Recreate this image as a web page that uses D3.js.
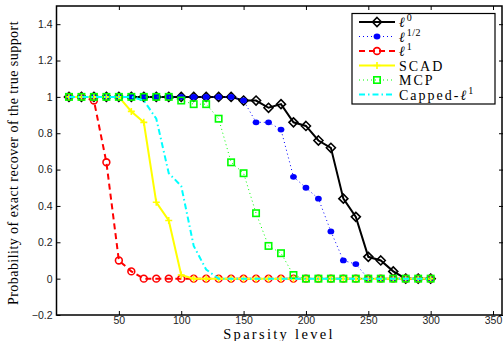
<!DOCTYPE html>
<html>
<head>
<meta charset="utf-8">
<script src="https://cdn.jsdelivr.net/npm/d3@7"></script>
<style>
  body { margin: 0; background: #fff; }
  .tick text { font-family: "Liberation Sans", Arial, sans-serif; font-size: 10.5px; fill: #222; }
</style>
</head>
<body>
<div id="chart"></div>
<script>
const sparsity = d3.range(10, 301, 10);
const xTicks = [50, 100, 150, 200, 250, 300, 350];
const yTicks = [-0.2, 0, 0.2, 0.4, 0.6, 0.8, 1, 1.2, 1.4];

const l0 = [1,1,1,1,1,1,1,1,1,1,1,1,1,1,0.98,0.98,0.94,0.96,0.86,0.84,0.76,0.72,0.44,0.34,0.12,0.10,0.04,0,0,0];
const lHalf = [1,1,1,1,1,1,1,1,1,1,1,1,1,1,0.98,0.86,0.86,0.82,0.56,0.50,0.44,0.26,0.10,0.08,0,0,0,0,0,0];
const l1 = [1,1,0.98,0.64,0.10,0.04,0,0,0,0,0,0,0,0,0,0,0,0,0,0,0,0,0,0,0,0,0,0,0,0];
const scad = [1,1,1,1,1,0.92,0.86,0.42,0.32,0.02,0,0,0,0,0,0,0,0,0,0,0,0,0,0,0,0,0,0,0,0];
const mcp = [1,1,1,1,1,1,1,1,1,0.98,0.96,0.96,0.88,0.64,0.58,0.36,0.18,0.14,0.02,0,0,0,0,0,0,0,0,0,0,0];
const capped = [1,1,1,1,1,1,0.98,0.88,0.58,0.51,0.18,0.05,0,0,0,0,0,0,0,0,0,0,0,0,0,0,0,0,0,0];

const series = [
  { pre: "", sup: "0", values: l0, color: "#000", width: 2, dash: null, marker: "diamond" },
  { pre: "", sup: "1/2", values: lHalf, color: "#0000ff", width: 1, dash: "1,3", marker: "dot" },
  { pre: "", sup: "1", values: l1, color: "#ff0000", width: 2, dash: "6,4", marker: "circle" },
  { label: "SCAD", values: scad, color: "#ffff00", width: 2, dash: null, marker: "plus" },
  { label: "MCP", values: mcp, color: "#00ff00", width: 1, dash: "1,3", marker: "square" },
  { pre: "Capped-", sup: "1", values: capped, color: "#00ffff", width: 2, dash: "6,3,1.5,3", marker: null }
];

const W = 504, H = 341;
const svg = d3.select("#chart").append("svg").attr("width", W).attr("height", H);

const x = d3.scaleLinear().domain([0, 358]).range([56.5, 503]);
const y = d3.scaleLinear().domain([-0.2, 1.5]).range([315, 6]);

// box + inward ticks on all sides
const fmt = d => d === 0 ? "0" : (d < 0 ? "\u22120.2" : String(+d.toFixed(1)));
svg.append("g").attr("transform", `translate(0,${y(-0.2)})`)
  .call(d3.axisBottom(x).tickValues(xTicks).tickSize(-4).tickPadding(2))
  .call(g => g.select(".domain").remove());
svg.append("g").attr("transform", `translate(0,${y(1.5)})`)
  .call(d3.axisTop(x).tickValues(xTicks).tickSize(-4).tickFormat(""))
  .call(g => g.select(".domain").remove());
svg.append("g").attr("transform", `translate(${x(0)},0)`)
  .call(d3.axisLeft(y).tickValues(yTicks).tickSize(-4).tickPadding(4).tickFormat(fmt))
  .call(g => g.select(".domain").remove());
svg.append("g").attr("transform", `translate(${x(358)},0)`)
  .call(d3.axisRight(y).tickValues(yTicks).tickSize(-4).tickFormat(""))
  .call(g => g.select(".domain").remove());
svg.selectAll(".tick line").attr("stroke", "#000");
svg.append("rect")
  .attr("x", x(0)).attr("y", y(1.5))
  .attr("width", x(358) - x(0) - 1).attr("height", y(-0.2) - y(1.5))
  .attr("fill", "none").attr("stroke", "#000").attr("stroke-width", 1.5);

const line = d3.line().x((d, i) => x(sparsity[i])).y(d => y(d));

function drawMarker(g, type, color, cx, cy) {
  if (type === "diamond") {
    g.append("path").attr("d", `M${cx},${cy-4.5}L${cx+4.5},${cy}L${cx},${cy+4.5}L${cx-4.5},${cy}Z`)
      .attr("fill", "none").attr("stroke", color).attr("stroke-width", 1.6);
  } else if (type === "dot") {
    g.append("ellipse").attr("cx", cx).attr("cy", cy).attr("rx", 3.4).attr("ry", 2.9).attr("fill", color);
  } else if (type === "circle") {
    g.append("circle").attr("cx", cx).attr("cy", cy).attr("r", 3.4)
      .attr("fill", "none").attr("stroke", color).attr("stroke-width", 1.6);
  } else if (type === "plus") {
    g.append("path").attr("d", `M${cx-3.5},${cy}H${cx+3.5}M${cx},${cy-3.5}V${cy+3.5}`)
      .attr("stroke", color).attr("stroke-width", 1.6);
  } else if (type === "square") {
    g.append("rect").attr("x", cx - 3.2).attr("y", cy - 3.2).attr("width", 6.4).attr("height", 6.4)
      .attr("fill", "none").attr("stroke", color).attr("stroke-width", 1.6);
  }
}

series.forEach(s => {
  const g = svg.append("g");
  g.append("path").datum(s.values).attr("d", line)
    .attr("fill", "none").attr("stroke", s.color).attr("stroke-width", s.width)
    .attr("stroke-dasharray", s.dash);
  if (s.marker) s.values.forEach((v, i) => drawMarker(g, s.marker, s.color, x(sparsity[i]), y(v)));
});

// legend
const serif = "'Liberation Serif', 'Times New Roman', serif";
const lg = svg.append("g");
lg.append("rect").attr("x", 352).attr("y", 13.5).attr("width", 143).attr("height", 90.5)
  .attr("fill", "#fff").attr("stroke", "#000").attr("stroke-width", 1.2);
const rowY = [22, 36.5, 51, 65.5, 80, 94.5];
series.forEach((s, i) => {
  const ry = rowY[i];
  lg.append("line").attr("x1", 359).attr("x2", 395).attr("y1", ry).attr("y2", ry)
    .attr("stroke", s.color).attr("stroke-width", s.width).attr("stroke-dasharray", s.dash);
  if (s.marker) drawMarker(lg, s.marker, s.color, 377, ry);
  const t = lg.append("text").attr("x", 399).attr("y", ry + 5)
    .attr("font-family", serif).attr("font-size", 14).attr("letter-spacing", 2);
  if (s.label) {
    t.text(s.label);
  } else {
    if (s.pre) t.append("tspan").text(s.pre);
    t.append("tspan").text("\u2113").attr("font-style", "italic");
    t.append("tspan").text(s.sup).attr("font-size", 10).attr("letter-spacing", 0.5).attr("dy", -6);
  }
});

// axis labels
svg.append("text").attr("x", 279).attr("y", 339).attr("text-anchor", "middle")
  .attr("font-family", serif).attr("font-size", 14.5)
  .attr("letter-spacing", 2.3).text("Sparsity level");
svg.append("text").attr("transform", "translate(18,163) rotate(-90)").attr("text-anchor", "middle")
  .attr("font-family", serif).attr("font-size", 14).attr("letter-spacing", 0.45)
  .text("Probability of exact recover of the true support");
</script>
</body>
</html>
